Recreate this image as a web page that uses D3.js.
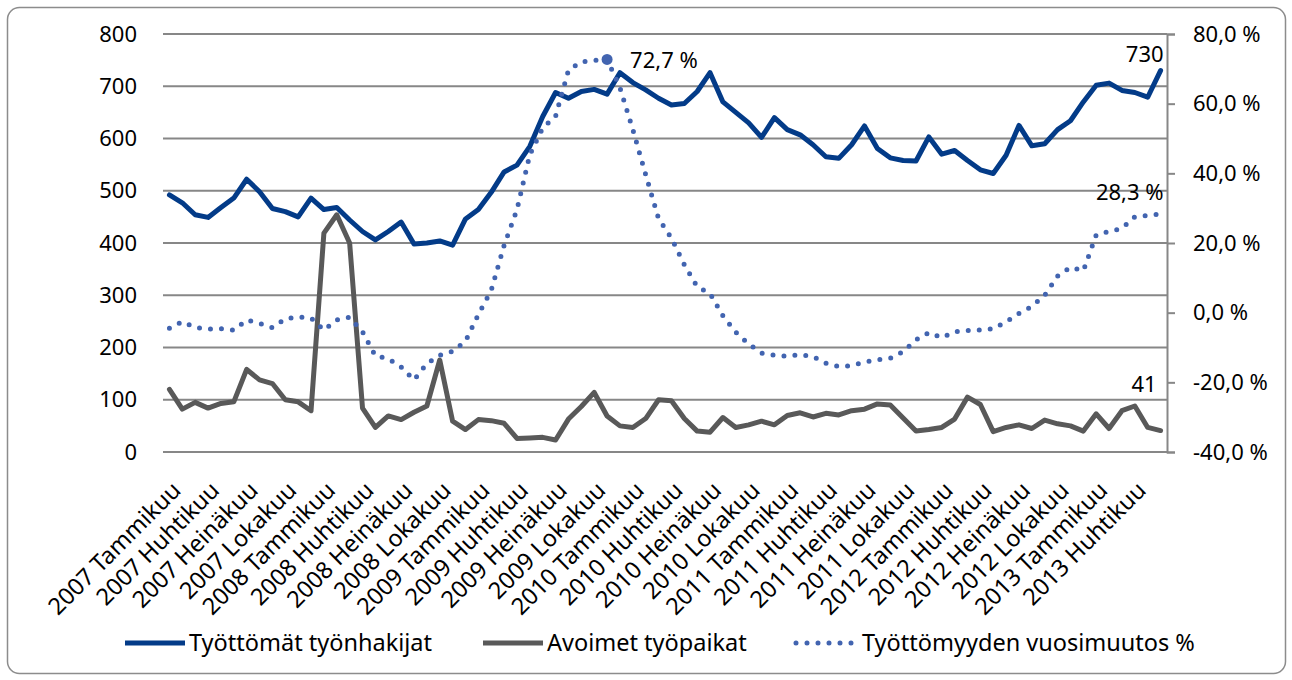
<!DOCTYPE html>
<html>
<head>
<meta charset="utf-8">
<script src="https://cdn.jsdelivr.net/npm/d3@7"></script>
<style>
  body { margin: 0; background: #fff; }
  svg { font-family: "Noto Sans", sans-serif; }
</style>
</head>
<body>
<svg id="chart" width="1292" height="680"></svg>
<script>
// month names used for the category labels
const monthNames = ["Tammikuu", "Helmikuu", "Maaliskuu", "Huhtikuu", "Toukokuu", "Kesäkuu",
  "Heinäkuu", "Elokuu", "Syyskuu", "Lokakuu", "Marraskuu", "Joulukuu"];
const years = [2007, 2008, 2009, 2010, 2011, 2012, 2013];
const monthCount = 78; // 2007 Tammikuu .. 2013 Kesäkuu

// Työttömät työnhakijat (left axis)
const tyottomat = [492, 477, 454, 449, 468, 486, 522, 498, 466, 460, 450, 486,
  464, 468, 444, 422, 406, 422, 440, 398, 400, 404, 396, 446,
  464, 497, 536, 549, 585, 642, 688, 677, 690, 694, 685, 726,
  707, 693, 677, 664, 667, 690, 726, 670, 650, 630, 602, 640,
  617, 607, 588, 565, 562, 588, 624, 581, 563, 558, 557, 603,
  570, 577, 558, 540, 533, 568, 625, 586, 590, 617, 634, 670,
  702, 706, 692, 688, 679, 730];

// Avoimet työpaikat (left axis)
const avoimet = [120, 82, 95, 84, 93, 96, 158, 138, 131, 100, 96, 79,
  419, 454, 400, 84, 47, 69, 62, 76, 88, 176, 59, 43,
  62, 60, 55, 26, 27, 28, 23, 63, 87, 114, 69, 50,
  47, 64, 100, 98, 64, 40, 38, 66, 47, 52, 59, 52,
  70, 75, 67, 74, 71, 79, 82, 92, 90, 65, 40, 43,
  47, 63, 105, 91, 39, 47, 52, 45, 61, 54, 50, 40,
  73, 45, 79, 88, 47, 41];

// Työttömyyden vuosimuutos % (right axis)
const vuosimuutos = [-4.5, -2.6, -4.3, -4.7, -4.6, -5.0, -2.1, -3.1, -4.3, -1.8, -1.2, -1.5,
  -5.0, -2.1, -1.3, -5.5, -12.4, -13.2, -15.6, -19.3, -14.6, -12.2, -11.1, -8.2,
  -0.5, 6.4, 19.3, 29.6, 45.4, 53.0, 56.4, 69.6, 72.0, 72.4, 72.7, 64.6,
  52.6, 39.6, 27.0, 21.4, 13.8, 7.5, 5.5, -0.9, -5.6, -9.0, -11.6, -12.2,
  -12.5, -12.0, -12.6, -14.5, -15.5, -15.2, -14.2, -13.5, -13.1, -11.2, -7.8, -5.7,
  -7.2, -5.5, -5.1, -5.0, -4.6, -2.6, -0.2, 1.8, 5.0, 10.5, 13.0, 12.0,
  22.3, 23.3, 24.2, 27.5, 27.9, 28.3];

const leftTicks = [0, 100, 200, 300, 400, 500, 600, 700, 800];
const rightTicks = [-40, -20, 0, 20, 40, 60, 80];
const seriesNames = ["Työttömät työnhakijat", "Avoimet työpaikat", "Työttömyyden vuosimuutos %"];

const categories = [];
years.forEach(y => monthNames.forEach(m => categories.push(y + " " + m)));
categories.length = monthCount;

const colBlue = "#033b88", colGray = "#595959", colDot = "#4264b0";

const svg = d3.select("#chart");
const plotLeft = 163, plotRight = 1167, plotTop = 34, plotBottom = 452;

// outer chart border
svg.append("rect")
  .attr("x", 7.5).attr("y", 7.5)
  .attr("width", 1278).attr("height", 666)
  .attr("rx", 12)
  .attr("fill", "#fff")
  .attr("stroke", "#8c8c8c")
  .attr("stroke-width", 1.5);

const x = d3.scaleBand().domain(d3.range(monthCount)).range([plotLeft, plotRight]);
const cx = i => x(i) + x.bandwidth() / 2;
const yL = d3.scaleLinear().domain([0, 800]).range([plotBottom, plotTop]);
const yR = d3.scaleLinear().domain([-40, 80]).range([plotBottom, plotTop]);

const fi = d3.formatLocale({ decimal: ",", thousands: "\u00a0", grouping: [3], currency: ["", " €"], minus: "-" });
const pct = v => fi.format(".1f")(v) + " %";

// gridlines
svg.append("g")
  .selectAll("line")
  .data(leftTicks)
  .join("line")
  .attr("x1", plotLeft).attr("x2", plotRight)
  .attr("y1", d => yL(d)).attr("y2", d => yL(d))
  .attr("stroke", "#878787")
  .attr("stroke-width", 2);

// left axis
const gL = svg.append("g")
  .attr("transform", `translate(${plotLeft},0)`)
  .call(d3.axisLeft(yL).tickValues(leftTicks).tickSize(0).tickPadding(26));
gL.select(".domain").remove();
gL.selectAll("text").attr("font-size", 22).attr("fill", "#000").attr("font-family", "Noto Sans");

// right axis
const gR = svg.append("g")
  .attr("transform", `translate(${plotRight},0)`)
  .call(d3.axisRight(yR).tickValues(rightTicks).tickFormat(pct).tickSize(8).tickPadding(18));
gR.select(".domain").attr("stroke", "#878787").attr("stroke-width", 2);
gR.selectAll(".tick line").attr("stroke", "#878787").attr("stroke-width", 2);
gR.selectAll("text").attr("font-size", 22).attr("fill", "#000").attr("font-family", "Noto Sans");

// category labels
const gX = svg.append("g")
  .attr("transform", `translate(0,${plotBottom})`)
  .call(d3.axisBottom(x).tickValues(d3.range(0, monthCount, 3)).tickSize(0).tickFormat(i => categories[i]));
gX.select(".domain").remove();
gX.selectAll(".tick text")
  .attr("font-size", 23.5).attr("fill", "#000").attr("font-family", "Noto Sans")
  .attr("text-anchor", "end")
  .attr("y", 0).attr("dy", "0.35em")
  .attr("transform", "translate(7,34) rotate(-45)");

// lines
const lineL = d3.line().x((d, i) => cx(i)).y(d => yL(d));
const lineR = d3.line().x((d, i) => cx(i)).y(d => yR(d));

svg.append("path").datum(avoimet)
  .attr("d", lineL).attr("fill", "none")
  .attr("stroke", colGray).attr("stroke-width", 5)
  .attr("stroke-linejoin", "round").attr("stroke-linecap", "round");

svg.append("path").datum(tyottomat)
  .attr("d", lineL).attr("fill", "none")
  .attr("stroke", colBlue).attr("stroke-width", 5)
  .attr("stroke-linejoin", "round").attr("stroke-linecap", "round");

svg.append("path").datum(vuosimuutos)
  .attr("d", lineR).attr("fill", "none")
  .attr("stroke", colDot).attr("stroke-width", 5)
  .attr("stroke-dasharray", "0 11")
  .attr("stroke-linecap", "round");

// peak marker
const peak = d3.maxIndex(vuosimuutos);
svg.append("circle")
  .attr("cx", cx(peak)).attr("cy", yR(vuosimuutos[peak]))
  .attr("r", 5.5).attr("fill", colDot);

// data labels
const last = monthCount - 1;
const labels = svg.append("g").attr("font-size", 22).attr("fill", "#000");
labels.append("text")
  .attr("x", cx(peak) + 23).attr("y", yR(vuosimuutos[peak]) + 9)
  .text(pct(vuosimuutos[peak]));
labels.append("text")
  .attr("x", cx(last) + 3).attr("y", yL(tyottomat[last]) - 9)
  .attr("text-anchor", "end")
  .text(tyottomat[last]);
labels.append("text")
  .attr("x", cx(last) + 3).attr("y", yR(vuosimuutos[last]) - 14)
  .attr("text-anchor", "end")
  .text(pct(vuosimuutos[last]));
labels.append("text")
  .attr("x", cx(last) - 4).attr("y", yL(avoimet[last]) - 39)
  .attr("text-anchor", "end")
  .text(avoimet[last]);

// legend
const legend = svg.append("g").attr("transform", "translate(0,643)");
const legendItems = [
  { x: 125, color: colBlue, dash: null },
  { x: 483, color: colGray, dash: null },
  { x: 793, color: colDot, dash: "0 11" }
];
legendItems.forEach((it, k) => {
  legend.append("line")
    .attr("x1", it.x + (it.dash ? 3 : 0)).attr("x2", it.x + 60)
    .attr("y1", 0).attr("y2", 0)
    .attr("stroke", it.color).attr("stroke-width", 5)
    .attr("stroke-linecap", it.dash ? "round" : "butt")
    .attr("stroke-dasharray", it.dash);
  legend.append("text")
    .attr("x", it.x + (k === 2 ? 69 : 64)).attr("y", 0).attr("dy", "0.35em")
    .attr("font-size", 23.5).attr("fill", "#000")
    .text(seriesNames[k]);
});
</script>
</body>
</html>
